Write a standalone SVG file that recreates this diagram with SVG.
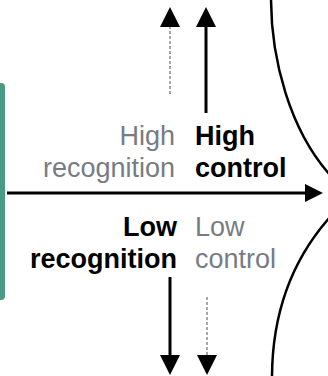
<svg xmlns="http://www.w3.org/2000/svg" width="328" height="376" viewBox="0 0 328 376">
  <style>
    text { font-family: "Liberation Sans", Arial, sans-serif; font-size: 27px; }
    .strong { fill: #000000; font-weight: bold; }
    .weak { fill: #777c84; }
    .solid { stroke: #000000; stroke-width: 3; fill: none; }
    .dotted { stroke: #8a8a8a; stroke-width: 1.5; stroke-dasharray: 3 2; fill: none; }
    .curve { stroke: #000000; stroke-width: 2.5; fill: none; }
  </style>
  <defs>
    <marker id="head" viewBox="0 0 20 20" refX="0" refY="10" markerWidth="20" markerHeight="20" markerUnits="userSpaceOnUse" orient="auto">
      <path d="M0,0 L20,10 L0,20 Z" fill="#000000"/>
    </marker>
    <marker id="head-h" viewBox="0 0 18 18" refX="0" refY="9" markerWidth="18" markerHeight="18" markerUnits="userSpaceOnUse" orient="auto">
      <path d="M0,0 L18,9 L0,18 Z" fill="#000000"/>
    </marker>
  </defs>

  <rect width="328" height="376" fill="#ffffff"/>

  <!-- side band -->
  <g id="band">
    <rect x="-5" y="83" width="10" height="217" rx="4" fill="#4a9a88"/>
  </g>

  <!-- boundary curves -->
  <g id="boundary">
    <path class="curve" d="M271,-2 C271,60 290,130 330,175"/>
    <path class="curve" d="M330,217 C290,262 272,316 272,378"/>
  </g>

  <g id="connectors">
    <line class="dotted" x1="170" y1="94" x2="170" y2="27" marker-end="url(#head)"/>
    <line class="solid" x1="206" y1="113" x2="206" y2="27" marker-end="url(#head)"/>
    <line class="solid" x1="7" y1="193" x2="305" y2="193" marker-end="url(#head-h)"/>
    <line class="solid" x1="170" y1="277" x2="170" y2="355" marker-end="url(#head)"/>
    <line class="dotted" x1="207" y1="297" x2="207" y2="355" marker-end="url(#head)"/>
  </g>

  <g id="high-recognition">
    <text class="weak" x="175" y="145" text-anchor="end">High</text>
    <text class="weak" x="175" y="177" text-anchor="end">recognition</text>
  </g>
  <g id="high-control">
    <text class="strong" x="195" y="145">High</text>
    <text class="strong" x="195" y="177">control</text>
  </g>
  <g id="low-recognition">
    <text class="strong" x="177" y="236" text-anchor="end">Low</text>
    <text class="strong" x="177" y="268" text-anchor="end">recognition</text>
  </g>
  <g id="low-control">
    <text class="weak" x="195" y="236">Low</text>
    <text class="weak" x="195" y="268">control</text>
  </g>
</svg>
